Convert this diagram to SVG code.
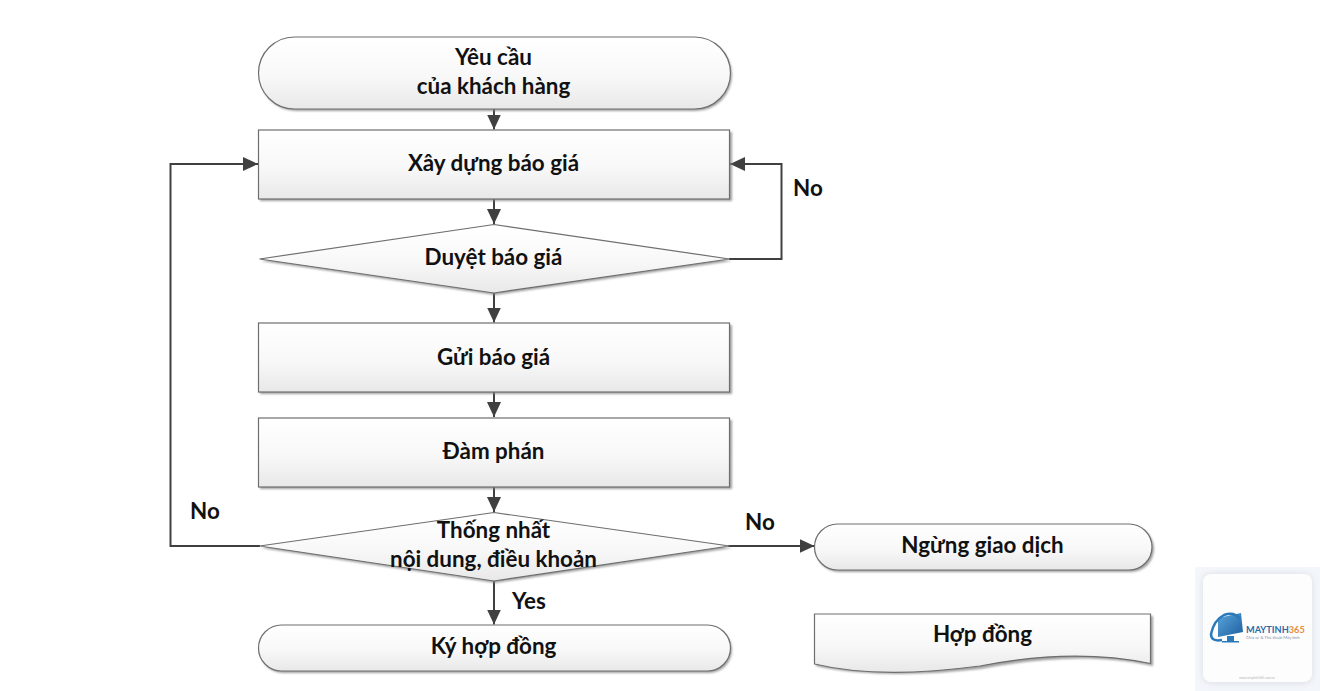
<svg xmlns="http://www.w3.org/2000/svg" width="1320" height="691" viewBox="0 0 1320 691">
<defs>
<linearGradient id="g" x1="0" y1="0" x2="0" y2="1"><stop offset="0" stop-color="#ffffff"/><stop offset="0.55" stop-color="#f8f8f8"/><stop offset="1" stop-color="#e8e8e8"/></linearGradient>
<linearGradient id="lg" x1="0" y1="0" x2="1" y2="1"><stop offset="0" stop-color="#5aa5dc"/><stop offset="1" stop-color="#1d5f9e"/></linearGradient>
<filter id="sh" x="-5%" y="-10%" width="110%" height="125%"><feGaussianBlur stdDeviation="1"/></filter>
<filter id="cs" x="-20%" y="-20%" width="140%" height="140%"><feGaussianBlur stdDeviation="3"/></filter>
<marker id="a" markerUnits="userSpaceOnUse" markerWidth="16" markerHeight="16" refX="15" refY="8" orient="auto"><path d="M0,1 L15,8 L0,15 Z" fill="#404040"/></marker>
</defs>
<style>
text{font-family:Lato,"Noto Sans",sans-serif;font-weight:700;font-size:22.4px;fill:#111;text-anchor:middle}
.s{fill:#808080;opacity:.75;filter:url(#sh)}
.n{fill:url(#g);stroke:#6e6e6e;stroke-width:1.200}
.c{fill:none;stroke:#404040;stroke-width:2;marker-end:url(#a)}
.l{text-anchor:start}
</style>
<rect width="1320" height="691" fill="#fff"/>
<g id="watermark">
<rect x="1195" y="567" width="125" height="124" fill="#f3f6fa"/>
<rect x="1203" y="574" width="109" height="109" rx="8" fill="#c9d0da" filter="url(#cs)" opacity=".6"/>
<rect x="1203" y="574" width="109" height="108" rx="8" fill="#fdfdfe"/>
<path d="M1218,618 L1241,613 L1243,632 L1218,637 Z" fill="url(#lg)"/>
<path d="M1240,619 Q1234,611 1224,615 Q1214,620 1211,634 Q1211,642 1222,640" fill="none" stroke="#2a79b9" stroke-width="2.500"/>
<rect x="1227" y="636" width="7" height="5" fill="#2a79b9"/>
<rect x="1222" y="641" width="17" height="1.500" fill="#2a79b9"/>
<text x="1246" y="633" style="font-size:9.200px;text-anchor:start;fill:#2c6aa6">MAYTINH<tspan fill="#e88a3c">365</tspan></text>
<text x="1246" y="639" style="font-size:4.200px;font-weight:400;text-anchor:start;fill:#7d8fa5">Chia sẻ &amp; Thủ thuật Máy tính</text>
<text x="1257" y="679" style="font-size:3.200px;font-weight:400;fill:#b5b5b5">www.maytinh365.com.vn</text>
</g>
<g id="connectors">
<path class="c" d="M494,109V129.500"/>
<path class="c" d="M494,199V224"/>
<path class="c" d="M729,259H781.500V164H730"/>
<path class="c" d="M494,293V322.500"/>
<path class="c" d="M494,392V417"/>
<path class="c" d="M494,487V512"/>
<path class="c" d="M260,546H170.500V164H258"/>
<path class="c" d="M728,546H814.500"/>
<path class="c" d="M494,581V624.500"/>
</g>
<g id="n1"><rect class="s" x="260" y="39" width="472" height="72" rx="36"/><rect class="n" x="258.500" y="37" width="472" height="72" rx="36"/><text x="493.500" y="64.500">Yêu cầu</text><text x="493.500" y="93.500">của khách hàng</text></g>
<g id="n2"><rect class="s" x="260" y="132" width="472" height="69"/><rect class="n" x="258.500" y="130" width="471" height="69"/><text x="493.500" y="171">Xây dựng báo giá</text></g>
<g id="n3"><path class="s" d="M261,261L495,226L732,261L495,295Z"/><path class="n" d="M259.500,259L494,224.500L729.500,259L494,293Z"/><text x="493.500" y="265">Duyệt báo giá</text></g>
<g id="n4"><rect class="s" x="260" y="325" width="472" height="69"/><rect class="n" x="258.500" y="323" width="471" height="69"/><text x="493.500" y="364.500">Gửi báo giá</text></g>
<g id="n5"><rect class="s" x="260" y="420" width="472" height="69"/><rect class="n" x="258.500" y="418" width="471" height="69"/><text x="493.500" y="458.500">Đàm phán</text></g>
<g id="n6"><path class="s" d="M261,548L495,514L732,548L495,583Z"/><path class="n" d="M259.500,546L494,512.500L729.500,546L494,581Z"/><text x="493.500" y="538">Thống nhất</text><text x="493.500" y="567">nội dung, điều khoản</text></g>
<g id="n7"><rect class="s" x="260" y="627" width="472" height="46" rx="23"/><rect class="n" x="258.500" y="625" width="472" height="46" rx="23"/><text x="493.500" y="654">Ký hợp đồng</text></g>
<g id="n8"><rect class="s" x="816" y="526" width="338" height="46" rx="23"/><rect class="n" x="814.500" y="524" width="337.500" height="46" rx="23"/><text x="982.500" y="553">Ngừng giao dịch</text></g>
<g id="n9"><path class="s" d="M816,666V616H1153V666C1090,652 1030,660 980,669C920,676 860,676 816,666Z"/><path class="n" d="M814.500,664V614H1150.500V663.500C1090,651 1030,656 980,666C920,674 860,675 814.500,664Z"/><text x="982.500" y="642">Hợp đồng</text></g>
<g id="labels">
<text class="l" x="793" y="196">No</text>
<text class="l" x="190" y="519">No</text>
<text class="l" x="745" y="530">No</text>
<text class="l" x="512" y="609">Yes</text>
</g>
</svg>
